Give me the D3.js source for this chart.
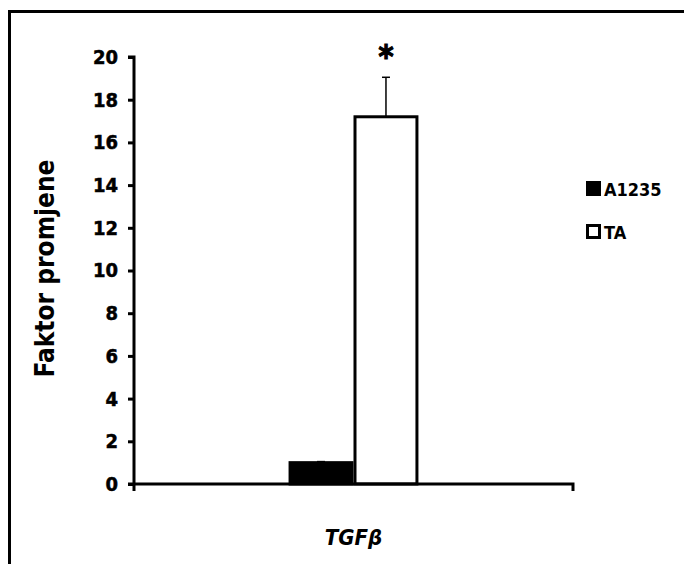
<!DOCTYPE html>
<html><head><meta charset="utf-8">
<script src="https://cdn.jsdelivr.net/npm/d3@7"></script>
<style>body{margin:0;background:#fff}svg{display:block}</style>
</head><body>
<script>
const categories = ["TGFβ"];
const seriesNames = ["A1235", "TA"];
const seriesColors = ["#000000", "#ffffff"];
const valuesA1235 = [1.0];
const valuesTA = [17.2];
const errorsA1235 = [0.05];
const errorsTA = [1.85];
const significance = ["", "*"];
const yTicks = [0, 2, 4, 6, 8, 10, 12, 14, 16, 18, 20];

const W = 684, H = 564;
const svg = d3.select("body").append("svg").attr("width", W).attr("height", H);
svg.append("rect").attr("width", W).attr("height", H).attr("fill", "#fff");
svg.append("path").attr("d", `M9.5,${H+5} V11.5 H${W+5}`).attr("fill", "none").attr("stroke", "#000").attr("stroke-width", 3);

const x0 = 134, x1 = 573, yTop = 57, yBot = 484;
const y = d3.scaleLinear().domain([0, 20]).range([yBot, yTop]);
const xCat = d3.scaleBand().domain(categories).range([x0, x1]).paddingInner(0).paddingOuter(1.19);
const xSer = d3.scaleBand().domain(seriesNames).range([0, xCat.bandwidth()]).padding(0);

const font = "'DejaVu Sans Condensed', 'DejaVu Sans', sans-serif";

const data = [];
categories.forEach((c, i) => {
  data.push({cat: c, s: "A1235", v: valuesA1235[i], e: errorsA1235[i], color: seriesColors[0], sig: significance[0]});
  data.push({cat: c, s: "TA", v: valuesTA[i], e: errorsTA[i], color: seriesColors[1], sig: significance[1]});
});

const g = svg.append("g");
data.forEach(d => {
  const cx = xCat(d.cat) + xSer(d.s) + xSer.bandwidth() / 2;
  g.append("line").attr("x1", cx).attr("x2", cx).attr("y1", y(d.v)).attr("y2", y(d.v + d.e)).attr("stroke", "#000").attr("stroke-width", 1.5);
  g.append("line").attr("x1", cx - 4).attr("x2", cx + 4).attr("y1", y(d.v + d.e)).attr("y2", y(d.v + d.e)).attr("stroke", "#000").attr("stroke-width", 1.5);
});
data.forEach(d => {
  const bx = xCat(d.cat) + xSer(d.s);
  g.append("rect").attr("x", bx + 1.5).attr("y", y(d.v)).attr("width", xSer.bandwidth() - 3).attr("height", yBot - y(d.v))
    .attr("fill", d.color).attr("stroke", "#000").attr("stroke-width", 3);
  if (d.sig) {
    g.append("text").attr("x", bx + xSer.bandwidth() / 2).attr("y", y(d.v + d.e) - 10)
      .attr("text-anchor", "middle").attr("font-family", font).attr("font-weight", "bold").attr("font-size", 32)
      .attr("stroke", "#000").attr("stroke-width", 1.2).text(d.sig);
  }
});

const yAxis = d3.axisLeft(y).tickValues(yTicks).tickSize(6).tickPadding(10).tickFormat(d3.format("d"));
const ya = svg.append("g").attr("transform", `translate(${x0},0)`).call(yAxis);
ya.select(".domain").attr("stroke-width", 3).attr("d", `M-6,${yTop}H0V${yBot}`);
ya.selectAll(".tick line").attr("stroke-width", 3);
ya.selectAll(".tick text").attr("font-family", font).attr("font-weight", "bold").attr("font-size", 20).attr("fill", "#000")
  .attr("stroke", "#000").attr("stroke-width", 0.5);

const xa = svg.append("g").attr("transform", `translate(0,${yBot})`);
xa.append("path").attr("d", `M${x0 - 6},0H${x1}V7`).attr("fill", "none").attr("stroke", "#000").attr("stroke-width", 3);
xa.append("line").attr("x1", x0).attr("x2", x0).attr("y1", 0).attr("y2", 7).attr("stroke", "#000").attr("stroke-width", 3);
categories.forEach(c => {
  xa.append("text").attr("x", xCat(c) + xCat.bandwidth() / 2).attr("y", 61).attr("text-anchor", "middle")
    .attr("font-family", font).attr("font-weight", "bold").attr("font-style", "italic").attr("font-size", 22).text(c);
});

svg.append("text").attr("transform", `translate(54,${(yTop + yBot) / 2 - 2}) rotate(-90)`).attr("text-anchor", "middle")
  .attr("font-family", font).attr("font-weight", "bold").attr("font-size", 26).text("Faktor promjene");

const lg = svg.append("g").attr("transform", "translate(586,181)");
seriesNames.forEach((s, i) => {
  const row = lg.append("g").attr("transform", `translate(0,${i * 43})`);
  row.append("rect").attr("x", 1.5).attr("y", 1.5).attr("width", 12).attr("height", 12).attr("fill", seriesColors[i]).attr("stroke", "#000").attr("stroke-width", 3);
  row.append("text").attr("x", 18).attr("y", 15).attr("font-family", font).attr("font-weight", "bold").attr("font-size", 18).text(s);
});
</script>
</body></html>
